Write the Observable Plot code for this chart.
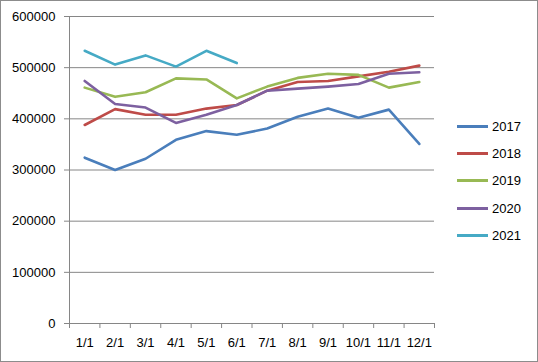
<!DOCTYPE html>
<html>
<head>
<meta charset="utf-8">
<script src="https://cdn.jsdelivr.net/npm/d3@7"></script>
<script src="https://cdn.jsdelivr.net/npm/@observablehq/plot@0.6"></script>
<style>
  body { margin: 0; background: #fff; }
  #wrap { position: relative; width: 538px; height: 362px; box-sizing: border-box; border: 1px solid #8c8c8c; background: #fff; font-family: "Liberation Sans", Arial, sans-serif; }
  #chart svg { display: block; }
  #legend { position: absolute; left: 456px; top: 112px; font-size: 13px; color: #000; }
  .item { display: flex; align-items: center; height: 27.2px; }
  .swatch { width: 31px; height: 3px; margin-right: 4px; }
</style>
</head>
<body>
<div id="wrap">
  <div id="chart"></div>
  <div id="legend"></div>
</div>
<script>
const months = ["1/1","2/1","3/1","4/1","5/1","6/1","7/1","8/1","9/1","10/1","11/1","12/1"];
const years = ["2017","2018","2019","2020","2021"];
const colors = ["#4A7EBB","#BE4B48","#98B954","#7D60A0","#46AAC5"];
const yTicks = [0,100000,200000,300000,400000,500000,600000];

const v2017 = [324000,300000,322000,359000,376000,369000,381000,404000,420000,402000,418000,351000];
const v2018 = [388000,419000,408000,408000,420000,427000,455000,472000,474000,483000,492000,504000];
const v2019 = [461000,443000,452000,479000,477000,440000,463000,480000,488000,486000,461000,472000];
const v2020 = [474000,429000,422000,392000,408000,427000,455000,459000,463000,468000,488000,491000];
const v2021 = [533000,506000,524000,502000,533000,509000];

const series = [v2017, v2018, v2019, v2020, v2021];
const data = [];
series.forEach((vals, s) => vals.forEach((v, i) => data.push({year: years[s], month: months[i], idx: i + 0.5, value: v})));

const grid = "#868686";
const plot = Plot.plot({
  width: 536,
  height: 360,
  marginLeft: 68,
  marginRight: 103,
  marginTop: 15,
  marginBottom: 38,
  style: {fontFamily: "'Liberation Sans', Arial, sans-serif", fontSize: "13px", color: "#000", background: "#fff"},
  x: {domain: [0, 12]},
  y: {domain: [0, 600000]},
  color: {domain: years, range: colors},
  marks: [
    Plot.gridY(yTicks, {stroke: grid, strokeOpacity: 1}),
    Plot.ruleX([0], {stroke: grid}),
    Plot.ruleY([0], {stroke: grid}),
    Plot.axisY({ticks: yTicks, tickFormat: d => String(d), tickSize: 5, tickPadding: 9, stroke: grid, label: null, fill: "#000"}),
    Plot.axisX({ticks: d3.range(13), tickFormat: () => "", tickSize: 5, stroke: grid, label: null}),
    Plot.axisX({ticks: months.map((m, i) => i + 0.5), tickFormat: d => months[Math.floor(d)], tickSize: 0, tickPadding: 14, label: null, fill: "#000"}),
    Plot.line(data, {x: "idx", y: "value", z: "year", stroke: "year", strokeWidth: 2.6, strokeLinejoin: "round", strokeLinecap: "round"})
  ]
});
document.getElementById("chart").appendChild(plot);

const legend = document.getElementById("legend");
years.forEach((y, i) => {
  const item = document.createElement("div");
  item.className = "item";
  item.innerHTML = `<span class="swatch" style="background:${colors[i]}"></span><span>${y}</span>`;
  legend.appendChild(item);
});
</script>
</body>
</html>
